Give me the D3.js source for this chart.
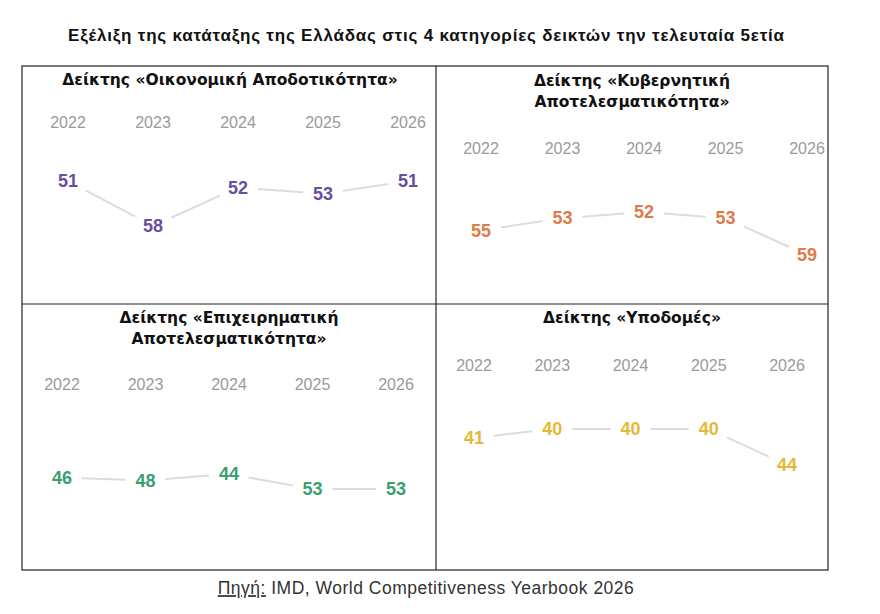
<!DOCTYPE html>
<html><head><meta charset="utf-8">
<script src="https://cdn.jsdelivr.net/npm/d3@7"></script>
<style>
body{margin:0;background:#fff;}
text{font-family:"Liberation Sans",Arial,sans-serif;}
</style></head>
<body><svg id="c" width="880" height="614"></svg>
<script>
const years = ["2022","2023","2024","2025","2026"];
const titles = [
  ["Δείκτης «Οικονομική Αποδοτικότητα»"],
  ["Δείκτης «Κυβερνητική","Αποτελεσματικότητα»"],
  ["Δείκτης «Επιχειρηματική","Αποτελεσματικότητα»"],
  ["Δείκτης «Υποδομές»"]
];
const economic = [51,58,52,53,51];
const government = [55,53,52,53,59];
const business = [46,48,44,53,53];
const infrastructure = [41,40,40,40,44];
const colors = ["#6a4ea0","#e07a48","#3a9f70","#e6b934"];

const svg = d3.select("#c");
svg.append("text").attr("x",426).attr("y",35).attr("dy","0.35em").attr("text-anchor","middle")
  .attr("font-size",17).attr("font-weight","bold").attr("fill","#111")
  .attr("textLength",716).attr("lengthAdjust","spacing")
  .text("Εξέλιξη της κατάταξης της Ελλάδας στις 4 κατηγορίες δεικτών την τελευταία 5ετία");

// frame
const L=22,R=828,T=66,B=570,MX=436,MY=304;
const fr = svg.append("g").attr("stroke","#222").attr("stroke-width",1.2).attr("fill","none");
fr.append("rect").attr("x",L).attr("y",T).attr("width",R-L).attr("height",B-T);
fr.append("line").attr("x1",MX).attr("x2",MX).attr("y1",T).attr("y2",B);
fr.append("line").attr("x1",L).attr("x2",R).attr("y1",MY).attr("y2",MY);

const panels = [
  {vals:economic, title:titles[0], cx:230, ty:80, yy:122, xr:[68,408], yd:[51,58], yr:[181,226]},
  {vals:government, title:titles[1], cx:632, ty:81, yy:148, xr:[481,807], yd:[52,59], yr:[212,255]},
  {vals:business, title:titles[2], cx:229, ty:318, yy:384, xr:[62,396], yd:[44,53], yr:[474,489]},
  {vals:infrastructure, title:titles[3], cx:632, ty:318, yy:365, xr:[474,787], yd:[40,44], yr:[429,465]}
];

panels.forEach((p,i)=>{
  const g = svg.append("g");
  const x = d3.scalePoint().domain(years).range(p.xr);
  const y = d3.scaleLinear().domain(p.yd).range(p.yr);
  p.title.forEach((t,k)=>{
    g.append("text").attr("x",p.cx).attr("y",p.ty+k*21).attr("dy","0.35em")
      .attr("text-anchor","middle").attr("font-size",15.5).attr("font-weight","bold")
      .style("font-family","'DejaVu Sans',sans-serif").attr("fill","#111").text(t);
  });
  g.selectAll(".yr").data(years).join("text")
    .attr("x",d=>x(d)).attr("y",p.yy).attr("dy","0.35em").attr("text-anchor","middle")
    .attr("font-size",16).attr("fill","#9a9a9a").text(d=>d);
  const pts = years.map((yr,j)=>({x:x(yr),y:y(p.vals[j]),v:p.vals[j]}));
  const segs = d3.pairs(pts).map(([a,b])=>{
    const dx=b.x-a.x, dy=b.y-a.y, len=Math.hypot(dx,dy), t=20/len;
    return {x1:a.x+dx*t,y1:a.y+dy*t,x2:b.x-dx*t,y2:b.y-dy*t};
  });
  g.selectAll(".seg").data(segs).join("line")
    .attr("x1",d=>d.x1).attr("y1",d=>d.y1).attr("x2",d=>d.x2).attr("y2",d=>d.y2)
    .attr("stroke","#dcdcdc").attr("stroke-width",2);
  g.selectAll(".val").data(pts).join("text")
    .attr("x",d=>d.x).attr("y",d=>d.y).attr("dy","0.35em").attr("text-anchor","middle")
    .attr("font-size",18).attr("font-weight","bold").attr("fill",colors[i]).text(d=>d.v);
});

const src = svg.append("text").attr("x",426).attr("y",588).attr("dy","0.35em")
  .attr("text-anchor","middle").attr("font-size",17.5).attr("fill","#333")
  .attr("letter-spacing",0.5);
src.append("tspan").attr("text-decoration","underline").text("Πηγή:");
src.append("tspan").text(" IMD, World Competitiveness Yearbook 2026");
</script></body></html>
